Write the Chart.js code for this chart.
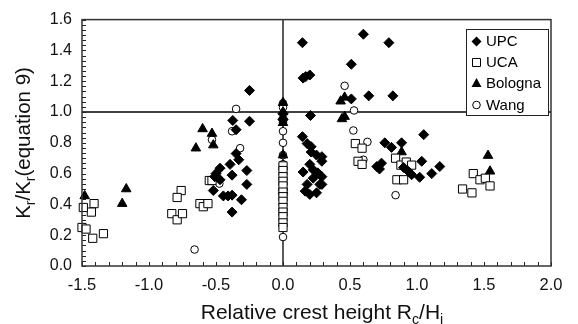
<!DOCTYPE html>
<html><head><meta charset="utf-8">
<script src="https://cdn.jsdelivr.net/npm/chart.js@4.4.1/dist/chart.umd.min.js"></script>
<style>html,body{margin:0;padding:0;background:#fff}</style>
</head><body>
<canvas id="c" width="578" height="324"></canvas>
<script>
const xTicks = [-1.5, -1.0, -0.5, 0.0, 0.5, 1.0, 1.5, 2.0];
const yTicks = [0.0, 0.2, 0.4, 0.6, 0.8, 1.0, 1.2, 1.4, 1.6];

const upcX = [-0.25,-0.375,-0.25,-0.35,-0.35,-0.47,-0.395,-0.33,-0.38,-0.27,-0.51,-0.47,-0.52,-0.445,-0.41,-0.38,-0.31,-0.27,-0.38,-0.50,
  0.0,0.0,
  0.145,0.60,0.79,0.51,0.20,0.15,0.17,0.64,0.82,0.51,0.205,1.05,0.145,0.76,0.81,0.885,
  0.18,0.21,0.21,0.25,0.29,0.29,0.15,0.20,0.225,0.26,0.29,0.275,0.225,0.18,0.165,0.20,0.25,0.29,
  0.70,0.735,0.72,0.935,0.96,1.02,1.035,1.11,1.17,0.90];
const upcY = [1.14,0.945,0.94,0.885,0.73,0.635,0.66,0.69,0.59,0.62,0.58,0.56,0.49,0.455,0.455,0.46,0.43,0.53,0.35,0.60,
  0.99,0.95,
  1.45,1.505,1.45,1.31,1.24,1.22,1.23,1.105,1.105,1.085,0.977,0.853,0.84,0.80,0.77,0.80,
  0.795,0.775,0.74,0.72,0.71,0.68,0.61,0.66,0.625,0.605,0.58,0.53,0.57,0.53,0.486,0.465,0.475,0.53,
  0.646,0.668,0.63,0.615,0.593,0.576,0.68,0.60,0.646,0.64];

const ucaX = [-0.55,-0.53,-0.62,-0.595,-0.56,-0.76,-0.79,-0.83,-0.79,-0.75,-1.41,-1.43,-1.49,-1.50,-1.47,-1.42,-1.34,
  0,0,0,0,0,0,0,0,0,0,0,0,0,
  0.54,0.59,0.56,0.59,
  0.84,0.88,0.92,0.96,0.85,0.90,
  1.42,1.47,1.51,1.545,1.34,1.41];
const ucaY = [0.555,0.555,0.405,0.385,0.405,0.49,0.445,0.34,0.30,0.34,0.405,0.35,0.38,0.25,0.24,0.18,0.21,
  0.65,0.62,0.58,0.55,0.52,0.48,0.45,0.42,0.38,0.35,0.32,0.28,0.25,
  0.795,0.765,0.68,0.66,
  0.70,0.655,0.675,0.655,0.56,0.56,
  0.60,0.56,0.57,0.52,0.50,0.475];

const bolX = [-0.60,-0.53,-0.52,-0.65,-1.17,-1.20,-1.48,
  0,0,0,0,0,0,0,
  0.43,0.46,0.44,0.46,0.885,1.53,1.545];
const bolY = [0.89,0.86,0.785,0.765,0.50,0.405,0.455,
  1.06,1.00,0.97,0.93,0.72,0.51,0.49,
  1.07,1.095,0.955,0.97,0.74,0.717,0.615];

const wangX = [-0.35,-0.38,-0.53,-0.32,-0.475,-0.66,
  0,0,0,0,0,0,0,0,
  0.46,0.53,0.525,0.63,0.60,0.84];
const wangY = [1.02,0.875,0.82,0.765,0.535,0.107,
  1.056,1.03,0.934,0.875,0.80,0.72,0.661,0.188,
  1.17,1.01,0.88,0.806,0.69,0.46];

const seriesNames = ['UPC', 'UCA', 'Bologna', 'Wang'];

const pts = (xs, ys) => xs.map((v, i) => ({x: v, y: ys[i]}));
const FONT = '"Liberation Sans", Arial, Helvetica, sans-serif';

function drawMarker(ctx, style, x, y) {
  ctx.save();
  ctx.lineWidth = 1;
  ctx.strokeStyle = '#000';
  ctx.beginPath();
  if (style === 'diamond') {
    ctx.moveTo(x, y - 5); ctx.lineTo(x + 5, y); ctx.lineTo(x, y + 5); ctx.lineTo(x - 5, y); ctx.closePath();
    ctx.fillStyle = '#000'; ctx.fill();
  } else if (style === 'square') {
    ctx.rect(x - 4, y - 4, 8, 8); ctx.fillStyle = '#fff'; ctx.fill(); ctx.stroke();
  } else if (style === 'triangle') {
    ctx.moveTo(x, y - 5.5); ctx.lineTo(x + 5, y + 3.5); ctx.lineTo(x - 5, y + 3.5); ctx.closePath();
    ctx.fillStyle = '#000'; ctx.fill();
  } else {
    ctx.arc(x, y, 3.8, 0, Math.PI * 2); ctx.fillStyle = '#fff'; ctx.fill(); ctx.stroke();
  }
  ctx.restore();
}

function drawSubText(ctx, parts, x, y, size, align) {
  let total = 0;
  const widths = parts.map(p => {
    ctx.font = (p[1] ? size * 0.68 : size) + 'px ' + FONT;
    const w = ctx.measureText(p[0]).width; total += w; return w;
  });
  let cx = align === 'center' ? x - total / 2 : x;
  parts.forEach((p, i) => {
    ctx.font = (p[1] ? size * 0.68 : size) + 'px ' + FONT;
    ctx.fillText(p[0], cx, p[1] ? y + size * 0.25 : y);
    cx += widths[i];
  });
}

const deco = {
  id: 'deco',
  beforeDatasetsDraw(chart) {
    const {ctx, chartArea: a, scales: {x, y}} = chart;
    ctx.save();
    ctx.strokeStyle = '#000';
    ctx.lineWidth = 1.3;
    const y1 = y.getPixelForValue(1.0);
    ctx.beginPath(); ctx.moveTo(a.left, y1); ctx.lineTo(a.right, y1); ctx.stroke();
    const x0 = x.getPixelForValue(0.0);
    ctx.beginPath(); ctx.moveTo(x0, a.top); ctx.lineTo(x0, a.bottom); ctx.stroke();
    ctx.lineWidth = 1;
    ctx.strokeStyle = '#222';
    for (let i = 0; i <= 35; i++) {
      const px = Math.round(x.getPixelForValue(-1.5 + i * 0.1)) + 0.5;
      ctx.beginPath(); ctx.moveTo(px, a.bottom); ctx.lineTo(px, a.bottom - 4); ctx.stroke();
    }
    for (let i = 0; i <= 48; i++) {
      const py = Math.round(y.getPixelForValue(i * 0.2 / 6)) + 0.5;
      ctx.beginPath(); ctx.moveTo(a.left, py); ctx.lineTo(a.left + 4, py); ctx.stroke();
    }
    ctx.restore();
  },
  afterDraw(chart) {
    const {ctx, chartArea: a} = chart;
    ctx.save();
    ctx.strokeStyle = '#333';
    ctx.lineWidth = 1.5;
    ctx.strokeRect(a.left, a.top, a.right - a.left, a.bottom - a.top);
    // legend
    ctx.fillStyle = '#fff';
    ctx.fillRect(466, 29, 82, 86);
    ctx.lineWidth = 1;
    ctx.strokeStyle = '#222';
    ctx.strokeRect(466.5, 29.5, 82, 86);
    const styles = ['diamond', 'square', 'triangle', 'circle'];
    const rows = [41.5, 62.5, 83.5, 105];
    seriesNames.forEach((n, i) => {
      drawMarker(ctx, styles[i], 476.5, rows[i]);
      ctx.fillStyle = '#000';
      ctx.font = '15px ' + FONT;
      ctx.textAlign = 'left';
      ctx.textBaseline = 'middle';
      ctx.fillText(n, 486, rows[i] + 0.5);
    });
    // axis titles
    ctx.textBaseline = 'alphabetic';
    ctx.textAlign = 'left';
    ctx.fillStyle = '#111';
    drawSubText(ctx, [['Relative crest height R', false], ['c', true], ['/H', false], ['i', true]], 322, 319, 21, 'center');
    ctx.translate(30, 143);
    ctx.rotate(-Math.PI / 2);
    drawSubText(ctx, [['K', false], ['r', true], ['/K', false], ['r', true], ['(equation 9)', false]], 0, 0, 20.5, 'center');
    ctx.restore();
  }
};

const common = {borderColor: '#000', borderWidth: 1, clip: false};
new Chart(document.getElementById('c'), {
  type: 'scatter',
  data: {
    datasets: [
      {label: seriesNames[0], data: pts(upcX, upcY), pointStyle: 'rectRot', pointRadius: 5, backgroundColor: '#000', ...common},
      {label: seriesNames[1], data: pts(ucaX, ucaY), pointStyle: 'rect', pointRadius: 5.8, backgroundColor: '#fff', ...common},
      {label: seriesNames[2], data: pts(bolX, bolY), pointStyle: 'triangle', pointRadius: 5.5, backgroundColor: '#000', ...common},
      {label: seriesNames[3], data: pts(wangX, wangY), pointStyle: 'circle', pointRadius: 3.8, backgroundColor: '#fff', ...common}
    ]
  },
  options: {
    responsive: false,
    animation: false,
    devicePixelRatio: 1,
    layout: {padding: {top: 16, right: 27, left: 0, bottom: 0}},
    plugins: {legend: {display: false}, tooltip: {enabled: false}},
    scales: {
      x: {
        type: 'linear', min: -1.5, max: 2.0,
        afterBuildTicks: s => { s.ticks = xTicks.map(v => ({value: v})); },
        afterFit: s => { s.height = 58; },
        grid: {display: false, drawTicks: false},
        border: {display: false},
        ticks: {padding: 10, color: '#111', font: {family: FONT, size: 16.5}, callback: v => Number(v).toFixed(1), maxRotation: 0, autoSkip: false}
      },
      y: {
        type: 'linear', min: 0, max: 1.6,
        afterBuildTicks: s => { s.ticks = yTicks.map(v => ({value: v})); },
        afterFit: s => { s.width = 82; },
        grid: {display: false, drawTicks: false},
        border: {display: false},
        ticks: {padding: 10, color: '#111', font: {family: FONT, size: 16}, callback: v => Number(v).toFixed(1), autoSkip: false}
      }
    }
  },
  plugins: [deco]
});
</script>
</body></html>
